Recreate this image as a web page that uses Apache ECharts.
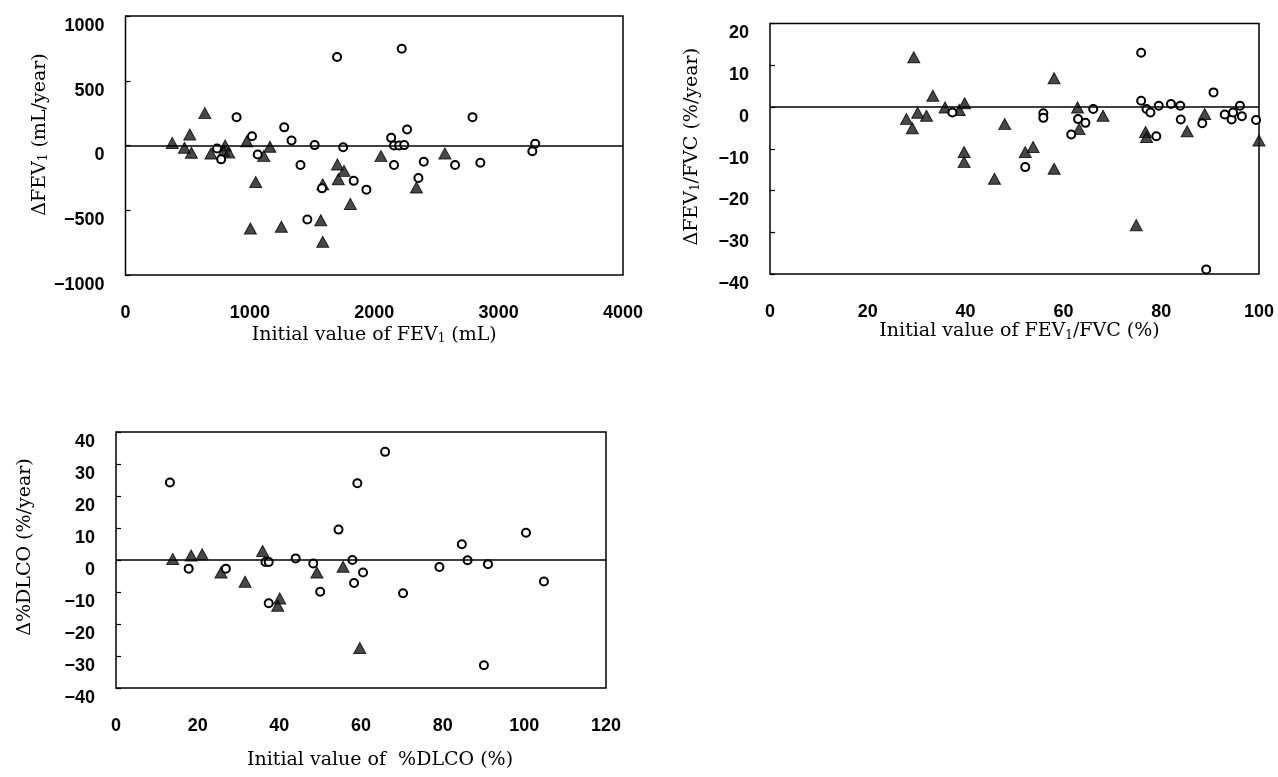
<!DOCTYPE html>
<html>
<head>
<meta charset="utf-8">
<script src="https://cdn.jsdelivr.net/npm/echarts@6/dist/echarts.min.js"></script>
<style>
html,body{margin:0;padding:0;background:#fff;}
#c{width:1278px;height:777px;}
</style>
</head>
<body>
<div id="c"></div>
<script>
// ---- Panel 1: ΔFEV1 vs initial FEV1 ----
const p1TriX = [376, 474, 517, 530, 638, 687, 801, 790, 830, 975, 1004, 1047, 1112, 1161, 1253, 1570, 1586, 1586, 1704, 1711, 1757, 1808, 2054, 2339, 2568];
const p1TriY = [20, -18, 85, -56, 250, -62, 0, -44, -55, 33, -641, -282, -82, -10, -628, -577, -300, -744, -146, -260, -196, -451, -82, -324, -61];
const p1CirX = [736, 769, 893, 1017, 1063, 1276, 1335, 1407, 1462, 1521, 1580, 1701, 1750, 1835, 1937, 2136, 2159, 2159, 2200, 2221, 2241, 2264, 2355, 2398, 2650, 2790, 2853, 3271, 3294];
const p1CirY = [-23, -107, 219, 71, -69, 140, 38, -150, -571, 3, -331, 683, -13, -273, -341, 59, 0, -150, 0, 747, 3, 123, -251, -125, -150, 219, -133, -44, 13];

// ---- Panel 2: ΔFEV1/FVC vs initial FEV1/FVC ----
const p2TriX = [29.4, 27.9, 29.1, 30.2, 32.0, 33.3, 35.8, 38.7, 39.8, 39.7, 39.7, 45.9, 48.0, 52.2, 53.8, 58.1, 58.1, 62.9, 63.2, 68.1, 74.9, 76.8, 77.0, 85.3, 88.9, 100];
const p2TriY = [11.9, -2.9, -5.1, -1.4, -2.1, 2.7, -0.1, -0.7, 0.9, -10.8, -13.2, -17.2, -4.1, -10.8, -9.6, 6.9, -14.8, -0.1, -5.3, -2.1, -28.3, -6.0, -7.2, -5.8, -1.7, -8.0];
const p2CirX = [37.3, 55.9, 55.9, 52.2, 61.6, 63.0, 64.5, 66.1, 75.9, 75.9, 77.0, 77.8, 79.0, 79.5, 82.0, 83.9, 84.0, 88.4, 89.2, 90.7, 93.0, 94.4, 94.7, 96.1, 96.5, 99.4];
const p2CirY = [-1.3, -1.5, -2.6, -14.4, -6.6, -2.9, -3.8, -0.5, 13.0, 1.5, -0.5, -1.3, -7.0, 0.3, 0.7, 0.3, -3.0, -3.9, -38.9, 3.5, -1.8, -3.0, -1.3, 0.3, -2.2, -3.1];

// ---- Panel 3: Δ%DLCO vs initial %DLCO ----
const p3TriX = [13.9, 18.4, 21.1, 25.7, 31.6, 35.9, 40.1, 39.6, 49.2, 55.6, 59.7];
const p3TriY = [0.3, 1.4, 1.8, -3.9, -6.8, 2.8, -12.0, -14.3, -3.9, -2.1, -27.5];
const p3CirX = [13.2, 17.8, 26.9, 36.6, 37.4, 37.4, 44.0, 48.3, 50.0, 54.5, 57.9, 58.3, 59.1, 60.5, 65.9, 70.3, 79.2, 84.7, 86.1, 90.1, 91.1, 100.4, 104.8];
const p3CirY = [24.2, -2.7, -2.7, -0.6, -0.6, -13.5, 0.5, -1.1, -9.9, 9.5, 0, -7.2, 24.0, -3.9, 33.8, -10.4, -2.2, 4.9, -0.1, -32.9, -1.3, 8.5, -6.7];

// ---- Axis settings (values) ----
const xRanges = [[0, 4000, 1000], [0, 100, 20], [0, 120, 20]];
const yRanges = [[-1000, 1000, 500], [-40, 20, 10], [-40, 40, 10]];
const xNames = ['Initial value of FEV{sub|1} (mL)', 'Initial value of FEV{sub|1}/FVC (%)', 'Initial value of  %DLCO (%)'];
const yNames = ['ΔFEV{sub|1} (mL/year)', 'ΔFEV{sub|1}/FVC (%/year)', 'Δ%DLCO (%/year)'];

function zip(xs, ys) { return xs.map((x, i) => [x, ys[i]]); }
function fmt(v) { return v < 0 ? '\u2212' + (-v) : String(v); }

const chart = echarts.init(document.getElementById('c'), null, {renderer: 'canvas'});

const tickFont = {fontFamily: '"Liberation Sans", Arial, sans-serif', fontWeight: 'bold', fontSize: 18, color: '#000'};
const serif = '"DejaVu Serif", "Liberation Serif", serif';
const nameRich = {sub: {fontFamily: serif, fontSize: 12, color: '#000', verticalAlign: 'bottom', padding: [8, 0, 0, 0]}};

const grids = [
  {left: 125.5, right: 655, top: 16, bottom: 502},
  {left: 770, right: 19, top: 23.5, bottom: 503},
  {left: 116, right: 672, top: 432, bottom: 89}
];
const yNameGaps = [73, 68, 81];
const yNamePads = [[0, 0, 0, 22], [0, 0, 0, 4], [0, 0, 0, 26]];
const xNameGaps = [50, 46, 63];
const xNamePads = [[0, 0, 0, 0], [0, 0, 0, 10], [0, 0, 0, 38]];

const xAxes = [], yAxes = [], series = [];
const tri = [[p1TriX, p1TriY], [p2TriX, p2TriY], [p3TriX, p3TriY]];
const cir = [[p1CirX, p1CirY], [p2CirX, p2CirY], [p3CirX, p3CirY]];

for (let i = 0; i < 3; i++) {
  grids[i].show = true;
  grids[i].borderColor = '#000';
  grids[i].borderWidth = 1.5;
  grids[i].containLabel = false;
  xAxes.push({
    type: 'value', gridIndex: i, min: xRanges[i][0], max: xRanges[i][1], interval: xRanges[i][2],
    name: xNames[i], nameLocation: 'middle', nameGap: xNameGaps[i],
    nameTextStyle: {fontFamily: serif, fontSize: 19, color: '#000', rich: nameRich, padding: xNamePads[i]},
    axisLine: {show: false}, axisTick: {show: false}, splitLine: {show: false},
    axisLabel: Object.assign({margin: 29, formatter: fmt}, tickFont)
  });
  yAxes.push({
    type: 'value', gridIndex: i, min: yRanges[i][0], max: yRanges[i][1], interval: yRanges[i][2],
    name: yNames[i], nameLocation: 'middle', nameGap: yNameGaps[i],
    nameTextStyle: {fontFamily: serif, fontSize: 19, color: '#000', rich: nameRich, padding: yNamePads[i]},
    axisLine: {show: false}, splitLine: {show: false},
    axisTick: {show: true, inside: true, length: 5, lineStyle: {color: '#000', width: 1.2}},
    axisLabel: Object.assign({margin: 21, verticalAlign: 'top', padding: [1, 0, 0, 0], formatter: fmt}, tickFont)
  });
  series.push({
    type: 'scatter', xAxisIndex: i, yAxisIndex: i, symbol: 'triangle', symbolSize: [12, 11],
    itemStyle: {color: '#1a1a1a', borderColor: '#000', borderWidth: 1},
    data: zip(tri[i][0], tri[i][1]),
    markLine: {silent: true, symbol: 'none', label: {show: false}, lineStyle: {color: '#000', width: 1.6, type: 'solid'}, data: [{yAxis: 0}]},
    z: 3
  });
  series.push({
    type: 'scatter', xAxisIndex: i, yAxisIndex: i, symbol: 'circle', symbolSize: 8,
    itemStyle: {color: '#fff', borderColor: '#000', borderWidth: 2, opacity: 1},
    data: zip(cir[i][0], cir[i][1]),
    z: 4
  });
}

chart.setOption({
  animation: false,
  backgroundColor: '#fff',
  grid: grids,
  xAxis: xAxes,
  yAxis: yAxes,
  series: series
});
</script>
</body>
</html>
